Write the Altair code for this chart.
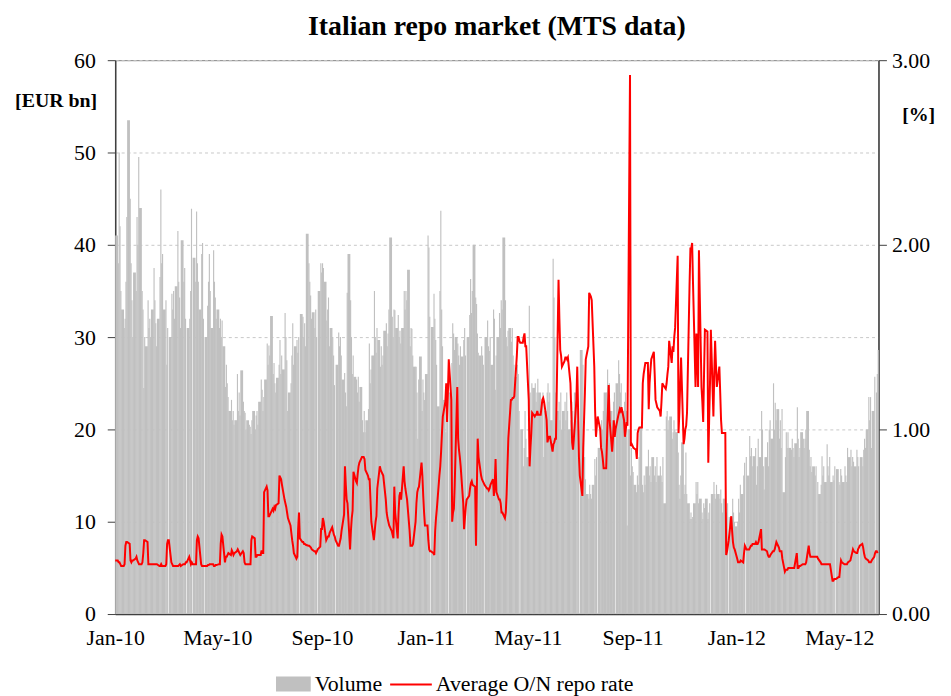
import altair as alt
import pandas as pd

FONT = "Liberation Serif"

# Daily volume [EUR bn], one inner list per month (business days)
vol_2010 = [
    [41, 38, 50, 42, 35, 33, 31, 32, 36, 43, 53.5, 45, 38, 34, 30, 37, 35, 43, 40, 49.5, 44],
    [35, 33, 24.5, 30, 29, 34, 31, 32, 30, 33, 37.5, 34, 31.5, 29, 32, 36.5, 46, 38, 39, 33],
    [34, 27, 31, 0, 30, 34.7, 33, 35, 32, 35.5, 41.5, 36, 34.3, 31, 40.5, 36, 37.5, 32, 0, 31, 32, 35, 43.9],
    [0, 38.6, 36, 43.6, 38, 36, 33, 39, 40.2, 32, 0, 30, 33.4, 36, 39, 35, 31, 39.4, 36, 34.3, 32, 33],
    [31, 32, 30, 31.8, 29, 24.6, 27, 25, 23.5, 22, 23.2, 21, 22, 20.5, 21, 26, 22, 24, 21.5, 26.4, 23],
    [22, 21.8, 20, 21, 20.5, 20.3, 19.5, 21, 22, 20, 21.5, 22, 20.5, 23, 25.4, 24.3, 22, 23.5, 25.4, 29.3, 27, 29.1],
    [28, 32.3, 26, 27.2, 25, 24, 25.6, 27, 29.7, 26, 28, 26.5, 32.6, 30, 27.5, 22, 24, 25, 28, 31.5, 27, 29],
    [29.7, 28.3, 30, 0, 32.5, 32.2, 30, 31.5, 29, 41.2, 38, 36, 34.5, 32, 32.7, 31, 33, 30, 0, 35, 38, 37],
    [38, 37.5, 36, 31.8, 33, 34.3, 29, 31, 30, 28, 24.8, 0, 27, 30.5, 29, 30, 28, 25.4, 26.1, 24, 22.5, 34.8],
    [39, 34, 30, 26, 28, 25.7, 25.4, 24, 25.7, 23, 24.6, 21, 19.7, 22, 19.7, 21, 22.2, 29.3, 25, 26.5, 28],
    [35, 30, 28.3, 31, 29.7, 26.8, 29, 27, 28, 30.7, 31.5, 29, 30.4, 33, 40.8, 32.2, 30, 33, 32.9, 31, 32.4, 30],
    [30.7, 29.3, 31, 35, 33, 35, 34, 37.3, 29, 31, 30.9, 28, 26.8, 26.8, 24, 19, 25.4, 27.9, 22, 25.4, 24, 23.2, 26],
]
vol_2011 = [
    [41, 39.7, 32.2, 0, 31.1, 34.7, 32, 29.7, 27, 22.5, 35, 43.7, 33, 29, 23.2, 19.7, 22.5, 21, 0, 24, 27.2],
    [31.5, 30.4, 28.6, 30, 29.3, 28, 27, 29, 27.9, 29.7, 31, 28, 0, 30, 32.4, 36.3, 32.6, 35, 40, 34.3],
    [33.6, 30.4, 28.3, 28, 29, 28, 27, 0, 30, 31.8, 29, 28.5, 30, 27, 33, 32, 24.3, 28, 30, 32.6, 31, 34, 33],
    [40.8, 34, 30, 29, 30.7, 31, 29.5, 31, 28, 27, 25.7, 27, 26, 22, 0, 20, 16, 18, 22, 19, 17],
    [33.4, 24, 22, 25, 24.5, 25, 23, 24, 25.5, 24, 22, 23, 24, 17, 22, 24, 25, 23, 24, 21, 38.5, 34.3],
    [30, 24, 22, 23, 21, 24, 20, 22, 23, 21, 24, 22, 20, 21, 23, 22, 20, 24, 21, 22, 20, 0],
    [28.6, 27, 20, 17, 14.6, 13, 12.5, 14, 13, 12.5, 14, 16.8, 15, 17, 0, 18, 19, 21, 20, 22, 24],
    [24, 26.5, 23, 25, 22, 21, 23, 24, 0, 25, 27.5, 26, 24, 25, 22, 23, 24, 22, 9.6, 20, 15, 18, 16],
    [15.4, 14, 13.2, 15, 14, 17, 20.3, 14, 13.2, 15, 14, 16, 17.8, 15, 16, 14.3, 17, 15, 16, 14.3, 17, 15],
    [16, 15, 14.3, 17, 12, 21.4, 22, 20, 21, 21.4, 19, 19.7, 21, 20, 19.7, 17.5, 14, 12.5, 15, 18.6, 13],
    [14, 17.5, 13, 12, 10.3, 11, 10.3, 10.5, 12, 14.3, 13, 14.3, 12, 12.5, 11, 10.3, 12, 11.5, 12.5, 10.3, 11, 12],
    [0, 13, 14.3, 13, 12.5, 14, 13, 12.5, 13.5, 12, 11, 12.5, 10.3, 11, 12, 0, 10.5, 9, 12.5, 11, 10, 9.5],
]
vol_2012 = [
    [10, 12.5, 11, 14, 13, 15, 16.4, 0, 17, 15, 19.3, 17.1, 18, 16, 17.1, 18, 14, 16, 19, 17, 22, 20],
    [16, 13.5, 17, 18.6, 16, 20, 21, 19, 25, 20, 22.9, 21, 22.2, 19, 21, 18, 22.2, 13.2, 17, 19.7, 18],
    [19.7, 18, 17.8, 19, 18, 17, 18.5, 22.4, 19, 17, 18, 19.7, 19, 18, 19, 20, 22, 17.8, 16, 17, 15.4, 16],
    [15, 16, 0, 14.3, 13, 14, 17.1, 15, 16, 14.3, 18.4, 16, 15, 17, 14.3, 15, 14.5, 16, 0, 15.7, 14.3],
    [14, 15.7, 15, 14.3, 16, 15, 14.3, 18, 17, 17.8, 16, 17, 16.5, 16, 17.8, 17, 16, 0, 17, 16, 17.8, 19, 18],
    [20, 23.5, 21, 23.5, 18, 22, 25.7, 0, 24, 26, 28.6],
]

# Daily average O/N repo rate [%], one inner list per month
rate_2010 = [
    [0.29, 0.29, 0.28, 0.28, 0.27, 0.26, 0.26, 0.27, 0.37, 0.39, 0.39, 0.38, 0.29, 0.28, 0.29, 0.29, 0.30, 0.31, 0.29, 0.28, 0.27],
    [0.27, 0.28, 0.33, 0.40, 0.40, 0.39, 0.27, 0.27, 0.27, 0.27, 0.27, 0.27, 0.27, 0.27, 0.27, 0.26, 0.26, 0.27, 0.26, 0.26],
    [0.26, 0.27, 0.38, 0.40, 0.40, 0.28, 0.27, 0.26, 0.26, 0.26, 0.26, 0.26, 0.265, 0.27, 0.26, 0.27, 0.27, 0.27, 0.28, 0.28, 0.31, 0.29, 0.27],
    [0.28, 0.27, 0.27, 0.27, 0.40, 0.42, 0.41, 0.27, 0.26, 0.26, 0.26, 0.26, 0.26, 0.265, 0.265, 0.27, 0.27, 0.27, 0.26, 0.26, 0.265, 0.265],
    [0.27, 0.27, 0.38, 0.43, 0.42, 0.28, 0.31, 0.31, 0.32, 0.33, 0.32, 0.345, 0.335, 0.32, 0.33, 0.34, 0.35, 0.34, 0.33, 0.32, 0.34],
    [0.33, 0.28, 0.27, 0.27, 0.27, 0.27, 0.27, 0.40, 0.42, 0.41, 0.31, 0.31, 0.32, 0.32, 0.32, 0.345, 0.33, 0.33, 0.66, 0.69, 0.67, 0.53],
    [0.53, 0.54, 0.57, 0.56, 0.58, 0.57, 0.59, 0.60, 0.75, 0.74, 0.73, 0.70, 0.62, 0.60, 0.58, 0.55, 0.52, 0.48, 0.44, 0.40, 0.37, 0.33],
    [0.30, 0.31, 0.46, 0.55, 0.41, 0.39, 0.39, 0.38, 0.38, 0.375, 0.37, 0.37, 0.365, 0.36, 0.35, 0.34, 0.34, 0.33, 0.34, 0.35, 0.365, 0.46],
    [0.46, 0.52, 0.50, 0.40, 0.41, 0.42, 0.42, 0.44, 0.47, 0.45, 0.43, 0.42, 0.40, 0.37, 0.37, 0.39, 0.41, 0.45, 0.54, 0.80, 0.70, 0.62],
    [0.60, 0.35, 0.45, 0.52, 0.56, 0.77, 0.72, 0.71, 0.76, 0.80, 0.82, 0.85, 0.85, 0.85, 0.84, 0.78, 0.75, 0.73, 0.73, 0.62, 0.50],
    [0.40, 0.45, 0.50, 0.53, 0.68, 0.80, 0.78, 0.77, 0.76, 0.75, 0.62, 0.55, 0.52, 0.50, 0.48, 0.45, 0.43, 0.41, 0.69, 0.55, 0.41, 0.55],
    [0.64, 0.66, 0.62, 0.80, 0.72, 0.68, 0.65, 0.62, 0.45, 0.37, 0.37, 0.37, 0.38, 0.50, 0.60, 0.66, 0.68, 0.69, 0.82, 0.75, 0.64, 0.55, 0.48],
]
rate_2011 = [
    [0.48, 0.40, 0.35, 0.34, 0.34, 0.33, 0.32, 0.45, 0.52, 0.57, 0.75, 0.80, 0.88, 0.98, 1.07, 1.15, 1.25, 1.04, 1.20, 1.38, 1.16],
    [0.50, 0.55, 0.57, 0.70, 1.23, 0.95, 0.89, 0.85, 0.80, 0.60, 0.46, 0.52, 0.58, 0.62, 0.64, 0.68, 0.71, 0.72, 0.70, 0.69],
    [0.37, 0.68, 0.95, 0.85, 0.75, 0.73, 0.72, 0.71, 0.70, 0.68, 0.68, 0.67, 0.68, 0.70, 0.73, 0.64, 0.70, 0.84, 0.66, 0.62, 0.62, 0.60, 0.55],
    [0.55, 0.52, 0.55, 0.65, 0.80, 0.95, 1.16, 1.16, 1.17, 1.17, 1.18, 1.40, 1.50, 1.50, 1.48, 1.47, 1.47, 1.50, 1.52, 1.45, 1.45],
    [1.16, 0.80, 0.90, 0.98, 1.09, 1.07, 1.08, 1.08, 1.10, 1.08, 1.08, 1.12, 1.16, 1.17, 1.15, 1.05, 0.93, 0.95, 0.96, 0.96, 0.88, 0.92],
    [0.93, 0.95, 0.95, 1.81, 1.60, 1.43, 1.40, 1.34, 1.37, 1.39, 1.39, 1.38, 1.39, 1.25, 1.10, 0.93, 0.89, 0.95, 1.16, 1.34, 1.10, 0.85],
    [0.75, 0.64, 0.90, 1.05, 1.20, 1.38, 1.45, 1.74, 1.73, 1.72, 1.70, 1.34, 1.10, 0.96, 1.02, 1.07, 1.00, 0.90, 0.88, 0.84, 0.79],
    [0.79, 0.95, 1.10, 1.24, 1.05, 0.88, 0.95, 1.05, 0.96, 1.00, 1.07, 1.09, 1.11, 1.10, 1.12, 1.05, 0.96, 1.00, 1.04, 1.02, 2.92, 0.91, 0.92],
    [0.91, 0.90, 0.89, 0.84, 0.98, 1.00, 1.01, 1.01, 1.25, 1.30, 1.33, 1.36, 1.36, 1.11, 1.25, 1.32, 1.38, 1.42, 1.30, 1.16, 1.14, 1.12],
    [1.10, 1.07, 1.15, 1.25, 1.24, 1.22, 1.25, 1.30, 1.34, 1.48, 1.36, 1.45, 1.42, 1.50, 1.55, 1.94, 0.98, 1.09, 1.25, 1.39, 0.92],
    [0.95, 1.00, 1.02, 1.09, 1.79, 1.98, 1.98, 2.01, 1.80, 1.23, 1.52, 1.40, 1.23, 1.97, 1.23, 1.15, 1.04, 1.30, 1.54, 1.53, 0.82, 1.05],
    [1.25, 1.54, 1.07, 1.30, 1.48, 1.35, 1.23, 1.34, 1.20, 1.05, 0.98, 0.98, 0.98, 0.32, 0.34, 0.37, 0.40, 0.53, 0.45, 0.39, 0.36, 0.35],
]
rate_2012 = [
    [0.30, 0.28, 0.28, 0.28, 0.29, 0.28, 0.33, 0.37, 0.36, 0.35, 0.35, 0.36, 0.37, 0.37, 0.38, 0.38, 0.39, 0.38, 0.38, 0.39, 0.46, 0.35],
    [0.35, 0.35, 0.35, 0.34, 0.32, 0.31, 0.31, 0.32, 0.34, 0.34, 0.35, 0.37, 0.39, 0.36, 0.34, 0.34, 0.34, 0.30, 0.23, 0.24, 0.24],
    [0.24, 0.25, 0.25, 0.25, 0.25, 0.25, 0.25, 0.33, 0.25, 0.25, 0.26, 0.26, 0.27, 0.27, 0.27, 0.27, 0.28, 0.37, 0.33, 0.31, 0.31, 0.31],
    [0.31, 0.31, 0.31, 0.31, 0.30, 0.28, 0.27, 0.27, 0.27, 0.27, 0.27, 0.27, 0.27, 0.27, 0.27, 0.18, 0.18, 0.19, 0.19, 0.19, 0.20],
    [0.20, 0.25, 0.29, 0.28, 0.27, 0.27, 0.27, 0.27, 0.28, 0.29, 0.31, 0.33, 0.35, 0.34, 0.33, 0.33, 0.35, 0.36, 0.37, 0.38, 0.36, 0.33, 0.31],
    [0.30, 0.29, 0.28, 0.28, 0.28, 0.29, 0.31, 0.33, 0.34, 0.34, 0.33],
]

x_tick_dates = [(2010, 1), (2010, 5), (2010, 9), (2011, 1), (2011, 5), (2011, 9), (2012, 1), (2012, 5)]
LAST_DAY = pd.Timestamp(2012, 6, 15)


def month_days(year, month):
    start = pd.Timestamp(year=year, month=month, day=1)
    end = min(start + pd.offsets.MonthEnd(0), LAST_DAY)
    return pd.bdate_range(start, end)


rows = []
for year, vols, rates in [(2010, vol_2010, rate_2010), (2011, vol_2011, rate_2011), (2012, vol_2012, rate_2012)]:
    for m, (vm, rm) in enumerate(zip(vols, rates), start=1):
        for d, v, r in zip(month_days(year, m), vm, rm):
            rows.append({"date": d, "volume": v, "rate": r})
df = pd.DataFrame(rows)
nxt = df["date"].shift(-1)
nxt.iloc[-1] = df["date"].iloc[-1] + pd.Timedelta(days=1)
df["next"] = nxt + pd.Timedelta(hours=8)

x_scale = alt.Scale(
    domain=[alt.DateTime(year=2010, month=1, date=1), alt.DateTime(year=2012, month=6, date=16)],
    nice=False,
)

bars = (
    alt.Chart(df)
    .transform_calculate(series="'Volume'")
    .mark_rect()
    .encode(
        x=alt.X(
            "date:T",
            scale=x_scale,
            title=None,
            axis=alt.Axis(
                values=[alt.DateTime(year=y, month=m, date=1) for y, m in x_tick_dates],
                labelExpr="timeFormat(datum.value, '%b-%y')",
                ticks=False,
                tickSize=0,
                labelPadding=14,
                labelFlush=False,
                labelOverlap=False,
                grid=False,
                domainColor="#404040",
                domainWidth=1.5,
            ),
        ),
        x2="next:T",
        y=alt.Y(
            "volume:Q",
            scale=alt.Scale(domain=[0, 60], nice=False),
            axis=alt.Axis(
                values=[0, 10, 20, 30, 40, 50, 60],
                format="d",
                grid=True,
                gridDash=[3, 3],
                gridColor="#c8c8c8",
                tickSize=8,
                tickColor="#404040",
                domainColor="#404040",
                domainWidth=1.5,
                labelPadding=12,
                title="[EUR bn]",
                titleAngle=0,
                titleAlign="center",
                titleBaseline="middle",
                titleX=-60,
                titleY=41,
                titleFontSize=20,
                titleFontWeight="bold",
            ),
        ),
        y2=alt.datum(0),
        color=alt.Color(
            "series:N",
            title=None,
            scale=alt.Scale(domain=["Volume"], range=["#c0c0c0"]),
            legend=alt.Legend(
                orient="none",
                legendX=162,
                legendY=611,
                symbolType="M-1,-0.43L1,-0.43L1,0.43L-1,0.43Z",
                symbolSize=1225,
                symbolStrokeWidth=0,
                labelOffset=4,
                labelLimit=400,
                padding=0,
            ),
        ),
    )
)

line = (
    alt.Chart(df)
    .transform_calculate(series="'Average O/N repo rate'")
    .mark_line(strokeWidth=2)
    .encode(
        x=alt.X("date:T", title=None),
        y=alt.Y(
            "rate:Q",
            scale=alt.Scale(domain=[0, 3], nice=False),
            axis=alt.Axis(
                orient="right",
                values=[0, 1, 2, 3],
                format=".2f",
                grid=False,
                tickSize=8,
                tickColor="#404040",
                domainColor="#404040",
                domainWidth=1.5,
                labelPadding=5,
                title="[%]",
                titleAngle=0,
                titleAlign="center",
                titleBaseline="middle",
                titleX=40,
                titleY=55,
                titleFontSize=20,
                titleFontWeight="bold",
            ),
        ),
        color=alt.Color(
            "series:N",
            title=None,
            scale=alt.Scale(domain=["Average O/N repo rate"], range=["#ff0000"]),
            legend=alt.Legend(
                orient="none",
                legendX=276,
                legendY=607,
                symbolType="stroke",
                symbolSize=1764,
                symbolStrokeWidth=2,
                labelOffset=3,
                labelLimit=400,
                padding=0,
            ),
        ),
    )
)

chart = (
    alt.layer(bars, line)
    .resolve_scale(y="independent", color="independent")
    .properties(
        width=769,
        height=558,
        title=alt.TitleParams(
            "Italian repo market (MTS data)",
            font=FONT,
            fontSize=28,
            fontWeight="bold",
            color="#000000",
            anchor="middle",
            offset=8,
        ),
        autosize=alt.AutoSizeParams(type="none"),
        padding={"left": 108, "top": 50, "right": 65, "bottom": 80},
    )
    .configure_view(stroke="#808080", strokeWidth=1)
    .configure_axis(
        labelFont=FONT,
        labelFontSize=22,
        labelColor="#000000",
        titleFont=FONT,
        titleColor="#000000",
    )
    .configure_legend(
        labelFont=FONT,
        labelFontSize=22,
        labelColor="#000000",
    )
)

chart.save("out.html", embed_options={"renderer": "svg", "actions": False})
